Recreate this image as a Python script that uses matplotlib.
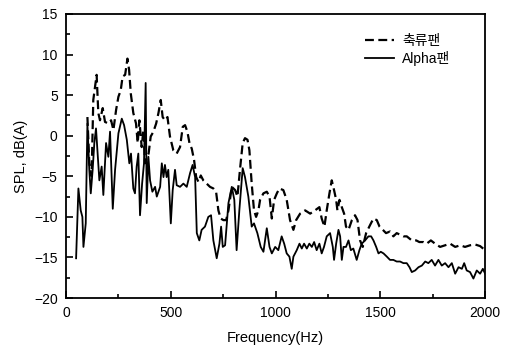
import matplotlib
matplotlib.use("Agg")
import matplotlib.pyplot as plt
from matplotlib.ticker import MultipleLocator

plt.rcParams['font.family'] = ['Liberation Sans', 'Noto Sans CJK KR', 'DejaVu Sans']

# 축류팬 (dashed)
axial_f = [102, 111, 122, 130, 146, 154, 162, 175, 186, 202, 215, 226, 239, 250, 261,
           270, 282, 293, 301, 309, 321, 334, 342, 350, 361, 369, 377, 385, 394, 404,
           417, 430, 441, 452, 461, 472, 484, 496, 512, 528, 544, 557, 568, 579, 589,
           600, 611, 621, 632, 643, 655, 671, 687, 703, 716, 727, 738, 751, 764, 775,
           791, 807, 818, 830, 843, 854, 866, 875, 886, 897, 907, 918,
           926, 942, 958, 971, 982, 993, 1006, 1018, 1037, 1053, 1069, 1085, 1098,
           1117, 1141, 1165, 1188, 1209, 1220, 1233, 1244, 1257, 1268, 1279, 1289,
           1295, 1305, 1316, 1327, 1336, 1348, 1364, 1379, 1391, 1403, 1416, 1432,
           1451, 1467, 1483, 1496, 1512, 1527, 1546, 1562, 1578, 1594, 1610, 1626,
           1650, 1671, 1686, 1706, 1721, 1741, 1761, 1785, 1809, 1833, 1857, 1881,
           1904, 1928, 1952, 1976, 2000]
axial_spl = [2.3, -3.4, -5.0, 4.4, 7.5, 2.8, 1.9, 3.4, 1.7, 1.5, 1.9, 0.7, 3.2, 4.8, 5.6,
             7.3, 7.5, 9.5, 8.1, 5.2, 2.8, 1.5, -0.9, 1.9, -1.4, 0.7, -3.4, -2.6, -2.2, -0.1,
             0.5, 1.5, 2.8, 4.4, 2.3, 1.9, 2.3, -0.1, -1.8, -2.2, -1.4, 1.1, 1.3, 0.5, -0.9,
             -1.6, -3.0, -5.1, -5.7, -4.9, -5.5, -5.9, -6.3, -6.5, -6.9, -9.2, -10.2, -10.4, -10.4, -9.2,
             -6.3, -6.7, -7.5, -4.2, -0.9, -0.3, -0.5, -1.8, -5.9, -9.2, -10.0, -9.2,
             -7.9, -7.1, -6.9, -7.5, -10.2, -7.9, -7.1, -6.5, -6.7, -7.9, -10.4, -11.6, -10.4,
             -9.6, -9.2, -9.6, -9.2, -8.8, -10.2, -11.2, -9.2, -7.1, -5.5, -6.7, -7.9,
             -9.2, -7.9, -8.8, -9.6, -11.2, -11.6, -10.4, -9.8, -10.4, -12.9, -13.7, -12.0,
             -11.0, -10.2, -10.4, -11.2, -11.6, -12.0, -11.8, -12.4, -12.0, -12.2, -12.4, -12.4,
             -12.9, -12.9, -13.1, -13.1, -13.3, -12.9, -13.3, -13.7, -13.5, -13.3, -13.7, -13.5,
             -13.7, -13.5, -13.4, -13.6, -14.1]

# Alpha팬 (solid)
alpha_f = [48, 59, 70, 78, 83, 94, 102, 111, 118, 127, 135, 143, 151, 159, 170, 178,
           191, 202, 210, 223, 234, 250, 266, 277, 290, 302, 310, 321, 329, 337, 345,
           353, 363, 372, 380, 385, 393, 401, 412, 425, 433, 449, 457, 465, 472, 480,
           488, 500, 509, 520, 528, 544, 560, 576, 592, 604, 616, 624, 636, 647, 663,
           679, 692, 703, 719, 732, 740, 748, 759, 775, 791, 803, 814, 827, 843, 854,
           870, 886, 897, 913, 929, 942, 958, 971, 982, 998, 1013, 1029, 1041, 1053,
           1066, 1077, 1085, 1101, 1114, 1125, 1136, 1149, 1161, 1173, 1184, 1196,
           1209, 1220, 1231, 1244, 1260, 1273, 1279, 1289, 1300, 1308, 1316, 1324,
           1336, 1348, 1359, 1371, 1387, 1400, 1411, 1427, 1443, 1456, 1467, 1480,
           1491, 1502, 1515, 1531, 1546, 1562, 1578, 1594, 1610, 1626, 1639, 1650,
           1666, 1682, 1698, 1714, 1729, 1745, 1761, 1777, 1793, 1809, 1825, 1841,
           1857, 1873, 1889, 1900, 1912, 1928, 1944, 1960, 1976, 1989, 2000]
alpha_spl = [-15.1, -6.5, -9.2, -10.0, -13.7, -10.8, 1.5, -4.2, -7.1, -4.2, -0.9, 0.9, -2.2, -5.5, -3.8, -7.3,
             -0.9, -2.6, 0.5, -9.0, -4.2, 0.3, 2.1, 1.3, -0.5, -3.4, -2.2, -6.5, -7.1, -3.8, -2.2,
             -9.8, -5.9, -3.4, 6.5, -8.3, -2.6, -5.5, -6.9, -6.3, -7.5, -6.3, -3.4, -5.1, -3.6, -5.1,
             -4.2, -10.8, -6.7, -4.2, -6.1, -6.3, -5.9, -6.3, -4.6, -3.6, -5.1, -12.0, -12.9, -11.6, -11.2,
             -10.0, -9.8, -12.9, -15.1, -13.3, -11.2, -13.7, -13.5, -8.3, -6.3, -7.9, -14.1, -9.2, -4.0, -5.1,
             -7.5, -11.2, -10.8, -12.0, -13.7, -14.3, -11.4, -13.7, -14.5, -13.7, -14.1, -12.4, -13.3, -14.5,
             -14.9, -16.4, -14.9, -14.1, -13.3, -13.9, -13.3, -13.9, -13.3, -13.7, -13.1, -14.1,
             -13.3, -14.5, -13.7, -12.4, -12.0, -13.7, -15.3, -13.3, -11.6, -12.4, -15.3, -13.7,
             -13.7, -12.9, -14.1, -13.9, -15.3, -14.1, -13.3, -12.9, -12.4, -12.4, -12.9, -13.7,
             -14.5, -14.3, -14.5, -14.9, -15.3, -15.3, -15.5, -15.5, -15.7, -15.7, -16.2, -16.8,
             -16.6, -16.2, -16.0, -15.5, -15.7, -15.3, -16.0, -15.3, -16.0, -15.7, -16.2, -15.7,
             -17.0, -16.2, -16.4, -15.7, -16.6, -16.8, -17.6, -16.6, -17.0, -16.4, -17.0]

fig = plt.figure(figsize=(5.08, 3.49), dpi=100)
ax = fig.add_axes([0.130, 0.146, 0.825, 0.814])

ax.plot(axial_f, axial_spl, color='black', lw=1.6, linestyle=(0, (4, 2)), label='축류팬')
ax.plot(alpha_f, alpha_spl, color='black', lw=1.3, label='Alpha팬')

ax.set_xlim(0, 2000)
ax.set_ylim(-20, 15)
ax.xaxis.set_major_locator(MultipleLocator(500))
ax.xaxis.set_minor_locator(MultipleLocator(250))
ax.yaxis.set_major_locator(MultipleLocator(5))
ax.yaxis.set_minor_locator(MultipleLocator(2.5))
ax.tick_params(which='both', direction='in', top=False, right=False, labelsize=10, width=1.2)
ax.tick_params(which='major', length=5, pad=6)
ax.tick_params(which='minor', length=3)
for s in ax.spines.values():
    s.set_linewidth(1.3)

ax.set_xlabel('Frequency(Hz)', fontsize=10.5, labelpad=8)
ax.set_ylabel('SPL, dB(A)', fontsize=10.5, labelpad=4)

ax.legend(loc='upper right', bbox_to_anchor=(0.947, 0.975), frameon=False, fontsize=10,
          handlelength=2.1, handletextpad=0.6, labelspacing=0.25)

fig.savefig('out.png', dpi=100)
